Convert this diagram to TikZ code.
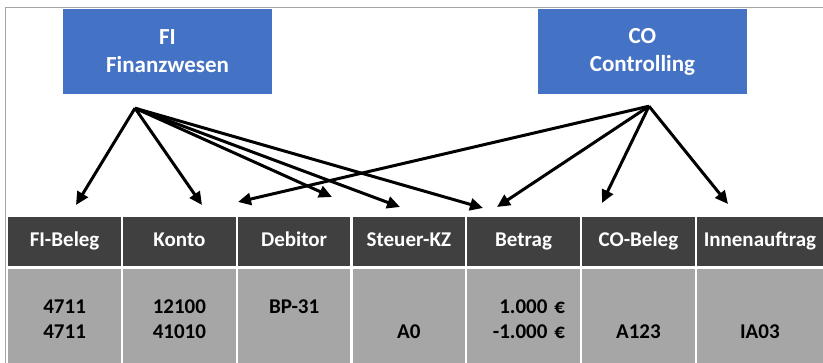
\documentclass[tikz,border=0pt]{standalone}
\usepackage{fontspec}
\setmainfont{Carlito}
\usetikzlibrary{arrows.meta}
\definecolor{modulblau}{HTML}{4472C4}
\definecolor{kopfgrau}{HTML}{404040}
\definecolor{zellgrau}{HTML}{A6A6A6}
\definecolor{rahmengrau}{HTML}{A5A5A5}
\newcommand{\zeile}{\rule[-1pt]{0pt}{23pt}}

\begin{document}
\begin{tikzpicture}[x=1pt,y=-1pt,
    modul/.style={fill=modulblau,text=white,font=\fontsize{23}{28}\selectfont\bfseries,align=center,minimum width=209pt,minimum height=85pt,inner sep=0pt},
    kopf/.style={fill=kopfgrau,text=white,font=\fontsize{21}{25}\selectfont\bfseries,minimum width=112.75pt,minimum height=49pt,inner sep=0pt,text height=14pt,text depth=4pt},
    zelle/.style={fill=zellgrau,font=\fontsize{21}{25}\selectfont\bfseries,align=center,minimum width=112.75pt,minimum height=94pt,inner sep=0pt},
    pfeil/.style={line width=3pt,-{Triangle[length=13pt,width=12pt]}}]
    \useasboundingbox (0,0) rectangle (823,363);
    \draw[rahmengrau,line width=1.5pt] (5.5,363) |- (823,7.5);

    % Module
    \node[modul] (fi) at (167.5,51.5) {FI\\Finanzwesen};
    \node[modul] (co) at (642.5,51.5) {CO\\Controlling};
    \coordinate (fiout) at ([xshift=-32.5pt,yshift=-14pt]fi.south);
    \coordinate (coout) at ([xshift=6.5pt,yshift=-12pt]co.south);

    % Kopfzeile
    \node[kopf] (fibeleg) at (64.6,241.5) {FI-Beleg};
    \node[kopf] (konto) at (179.4,241.5) {Konto};
    \node[kopf] (debitor) at (294.1,241.5) {Debitor};
    \node[kopf] (steuer) at (408.9,241.5) {Steuer-KZ};
    \node[kopf] (betrag) at (523.6,241.5) {Betrag};
    \node[kopf] (cobeleg) at (638.4,241.5) {CO-Beleg};
    \node[kopf,minimum width=126.25pt] (auftrag) at (759.9,241.5) {Innenauftrag};

    % Werte
    \node[zelle] (w1) at (64.6,316) {\zeile 4711\\\zeile 4711};
    \node[zelle] (w2) at (179.4,316) {\zeile 12100\\\zeile 41010};
    \node[zelle] (w3) at (294.1,316) {\zeile BP-31\\\zeile};
    \node[zelle] (w4) at (408.9,316) {\zeile\\\zeile A0};
    \node[zelle,align=right,text width=83pt] (w5) at (523.6,316) {\zeile 1.000 €\\\zeile -1.000 €};
    \node[zelle] (w6) at (638.4,316) {\zeile\\\zeile A123};
    \node[zelle,minimum width=126.25pt] (w7) at (759.9,316) {\zeile\\\zeile IA03};

    % Pfeilziele
    \coordinate (zfibeleg) at (76,205);
    \coordinate (zkonto) at (202,205);
    \coordinate (zdebfi) at (332,197);
    \coordinate (zsteuer) at (400,207);
    \coordinate (zbetfi) at (483,208);
    \coordinate (zdebco) at (238,202);
    \coordinate (zbetco) at (497,207);
    \coordinate (zcobeleg) at (602,203);
    \coordinate (zauftrag) at (728,204);

    \draw[pfeil] (fiout) -- (zfibeleg);
    \draw[pfeil] (fiout) -- (zkonto);
    \draw[pfeil] (fiout) -- (zdebfi);
    \draw[pfeil] (fiout) -- (zsteuer);
    \draw[pfeil] (fiout) -- (zbetfi);
    \draw[pfeil] (coout) -- (zdebco);
    \draw[pfeil] (coout) -- (zbetco);
    \draw[pfeil] (coout) -- (zcobeleg);
    \draw[pfeil] (coout) -- (zauftrag);
\end{tikzpicture}
\end{document}
